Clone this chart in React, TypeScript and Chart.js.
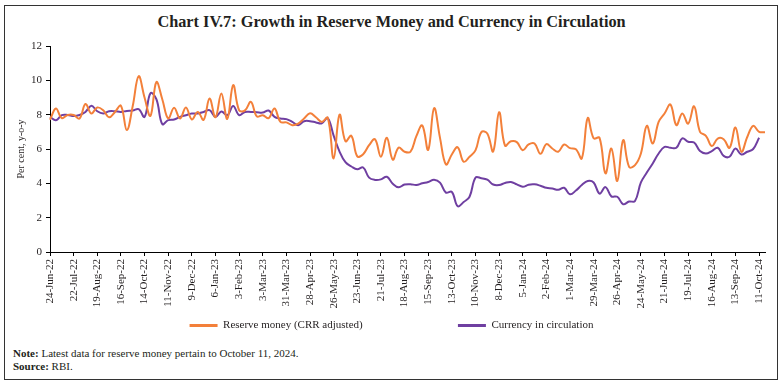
import React, { useEffect, useRef } from 'react';
import { Chart, registerables } from 'chart.js';

Chart.register(...registerables);

const FONT_FAMILY = "'Liberation Serif', 'Times New Roman', serif";
const TEXT_COLOR = '#231F20';
const ORANGE = '#F3803A';
const PURPLE = '#6F3FA1';

const MONTHS = ['Jan', 'Feb', 'Mar', 'Apr', 'May', 'Jun', 'Jul', 'Aug', 'Sep', 'Oct', 'Nov', 'Dec'];
const FIRST_WEEK = Date.UTC(2022, 5, 24);
const WEEK_COUNT = 122;
const TICK_EVERY = 4;

// Weekly reporting Fridays, 24-Jun-22 onwards
const CATEGORIES: string[] = Array.from({ length: WEEK_COUNT }, (_, i) => {
  const d = new Date(FIRST_WEEK + i * 7 * 86400000);
  return `${d.getUTCDate()}-${MONTHS[d.getUTCMonth()]}-${String(d.getUTCFullYear()).slice(2)}`;
});

const RESERVE_MONEY: number[] = [
  7.7, 8.36, 7.8, 7.98, 7.98, 7.78, 8.62, 8.07, 8.42, 8.26,
  7.85, 8.16, 8.52, 7.1, 8.5, 10.24, 9.0, 7.93, 9.9, 8.9,
  7.78, 8.4, 7.78, 8.42, 7.72, 8.16, 7.7, 8.94, 7.85, 9.23,
  7.75, 9.72, 8.26, 8.25, 8.75, 7.9, 7.97, 7.8, 8.36, 7.58,
  7.55, 7.39, 7.48, 7.78, 8.08, 7.85, 7.58, 7.82, 5.45, 8.0,
  6.45, 6.77, 5.57, 5.7, 6.22, 6.57, 5.55, 6.66, 5.38, 6.08,
  5.84, 5.84, 6.75, 7.37, 5.95, 8.38, 6.65, 5.1, 5.68, 6.1,
  5.26, 5.55, 5.92, 6.98, 6.9, 5.86, 8.14, 6.2, 6.45, 6.4,
  5.93, 6.27, 6.32, 5.72, 6.28, 6.03, 5.84, 6.26, 6.05, 5.98,
  5.45, 7.8, 6.62, 6.65, 4.58, 6.03, 4.14, 6.52, 4.96, 5.06,
  5.74, 7.35, 6.32, 7.58, 8.07, 8.59, 7.39, 8.07, 7.48, 8.49,
  7.0, 6.77, 6.17, 6.61, 6.57, 6.07, 7.25, 5.84, 6.7, 7.35,
  7.0, 6.98,
];

const CURRENCY: (number | null)[] = [
  7.87, 7.68, 7.97, 7.98, 7.92, 7.98, 8.16, 8.52, 8.2, 8.07,
  8.2, 8.2, 8.16, 8.22, 8.24, 8.32, 7.87, 9.25, 8.9, 7.45,
  7.68, 7.72, 7.87, 7.97, 8.07, 8.07, 8.16, 8.26, 7.87, 8.18,
  7.97, 8.51, 7.97, 8.16, 8.16, 8.14, 8.12, 8.24, 7.87, 7.78,
  7.74, 7.58, 7.39, 7.62, 7.62, 7.55, 7.5, 7.8, 6.78, 5.85,
  5.23, 4.98, 4.82, 4.92, 4.33, 4.2, 4.23, 4.38, 3.98, 3.77,
  3.93, 3.95, 3.9, 4.0, 4.08, 4.21, 4.04, 3.46, 3.5, 2.66,
  2.91, 3.22, 4.33, 4.3, 4.21, 3.93, 3.9, 4.02, 4.08, 3.94,
  3.8, 3.92, 3.94, 3.86, 3.74, 3.7, 3.62, 3.74, 3.36, 3.58,
  3.9, 4.14, 4.05, 3.4, 3.78, 3.24, 3.22, 2.78, 2.94, 2.97,
  4.05, 4.63, 5.16, 5.74, 6.12, 6.07, 6.07, 6.62, 6.42, 6.38,
  5.88, 5.74, 5.88, 6.07, 5.6, 5.55, 6.03, 5.68, 5.84, 6.0,
  6.65, null,
];

const Y_MIN = 0;
const Y_MAX = 12;
const Y_STEP = 2;

const SERIES_LABELS = ['Reserve money (CRR adjusted)', 'Currency in circulation'];

export default function App() {
  const canvasRef = useRef<HTMLCanvasElement | null>(null);

  useEffect(() => {
    const canvas = canvasRef.current;
    if (!canvas) return;
    const legendFontSize = 11;
    const boxW = 28;
    const chart = new Chart(canvas, {
      type: 'line',
      data: {
        labels: CATEGORIES,
        datasets: [
          {
            label: SERIES_LABELS[0],
            data: RESERVE_MONEY,
            borderColor: ORANGE,
            backgroundColor: ORANGE,
            borderWidth: 2,
            pointRadius: 0,
            tension: 0.4,
            fill: false,
          },
          {
            label: SERIES_LABELS[1],
            data: CURRENCY,
            borderColor: PURPLE,
            backgroundColor: PURPLE,
            borderWidth: 2,
            pointRadius: 0,
            tension: 0.4,
            fill: false,
          },
        ],
      },
      options: {
        animation: false,
        responsive: false,
        devicePixelRatio: 1,
        layout: { padding: { top: 12, left: 18, right: 18, bottom: 0 } },
        plugins: {
          tooltip: { enabled: false },
          title: { display: false },
          legend: {
            display: true,
            position: 'bottom',
            labels: {
              boxWidth: boxW,
              boxHeight: 3,
              padding: 10,
              color: TEXT_COLOR,
              font: { size: legendFontSize, family: FONT_FAMILY },
              generateLabels: (ch: any) => {
                const items = (Chart.defaults.plugins.legend.labels as any).generateLabels(ch);
                const ctx = ch.ctx as CanvasRenderingContext2D;
                ctx.save();
                ctx.font = `normal ${legendFontSize}px ${FONT_FAMILY}`;
                const w2 = ctx.measureText(items[1].text).width;
                const target = 393 - (boxW + legendFontSize / 2 + w2) - (boxW + legendFontSize / 2);
                let t = items[0].text;
                let guard = 0;
                while (ctx.measureText(t).width < target && guard < 200) {
                  t += ' ';
                  guard++;
                }
                ctx.restore();
                items[0].text = t;
                items.forEach((it: any) => {
                  it.lineWidth = 0;
                });
                return items;
              },
            },
          },
        },
        scales: {
          x: {
            type: 'category',
            offset: false,
            grid: {
              display: true,
              drawOnChartArea: false,
              drawTicks: true,
              tickLength: 4,
              tickColor: (c: any) => (c.index % TICK_EVERY === 0 ? '#000' : 'rgba(0,0,0,0)'),
            },
            border: { display: true, color: '#000', width: 1 },
            ticks: {
              autoSkip: false,
              maxRotation: 90,
              minRotation: 90,
              padding: 3,
              color: TEXT_COLOR,
              font: { size: 11, family: FONT_FAMILY },
              callback: (_v: any, index: number) => (index % TICK_EVERY === 0 ? CATEGORIES[index] : ''),
            },
            afterFit: (s: any) => {
              s.height = 58;
            },
          },
          y: {
            min: Y_MIN,
            max: Y_MAX,
            grid: {
              display: true,
              drawOnChartArea: false,
              drawTicks: true,
              tickLength: 4,
              tickColor: '#000',
            },
            border: { display: true, color: '#000', width: 1 },
            ticks: {
              stepSize: Y_STEP,
              padding: 4,
              color: TEXT_COLOR,
              font: { size: 11, family: FONT_FAMILY },
            },
            title: {
              display: true,
              text: 'Per cent, y-o-y',
              color: TEXT_COLOR,
              font: { size: 10, family: FONT_FAMILY },
              padding: { top: -3, bottom: 0 },
            },
            afterFit: (s: any) => {
              s.width = 32;
            },
          },
        },
      },
    } as any);
    return () => {
      chart.destroy();
    };
  }, []);

  return (
    <div
      style={{
        position: 'absolute',
        left: 0,
        top: 0,
        width: 783,
        height: 385,
        background: '#fff',
        fontFamily: FONT_FAMILY,
        color: TEXT_COLOR,
      }}
    >
      <div
        style={{
          position: 'absolute',
          left: 4,
          top: 5,
          width: 774,
          height: 375,
          boxSizing: 'border-box',
          border: '1px solid #333',
        }}
      />
      <div
        style={{
          position: 'absolute',
          left: 0,
          top: 12,
          width: 783,
          textAlign: 'center',
          fontWeight: 'bold',
          fontSize: 16.3,
          lineHeight: '20px',
        }}
      >
        Chart IV.7: Growth in Reserve Money and Currency in Circulation
      </div>
      <canvas
        ref={canvasRef}
        width={783}
        height={307}
        style={{ position: 'absolute', left: 0, top: 34, width: 783, height: 307 }}
      />
      <div
        style={{
          position: 'absolute',
          left: 13,
          top: 347,
          fontSize: 11,
          lineHeight: '13px',
        }}
      >
        <div>
          <b>Note:</b> Latest data for reserve money pertain to October 11, 2024.
        </div>
        <div>
          <b>Source:</b> RBI.
        </div>
      </div>
    </div>
  );
}
